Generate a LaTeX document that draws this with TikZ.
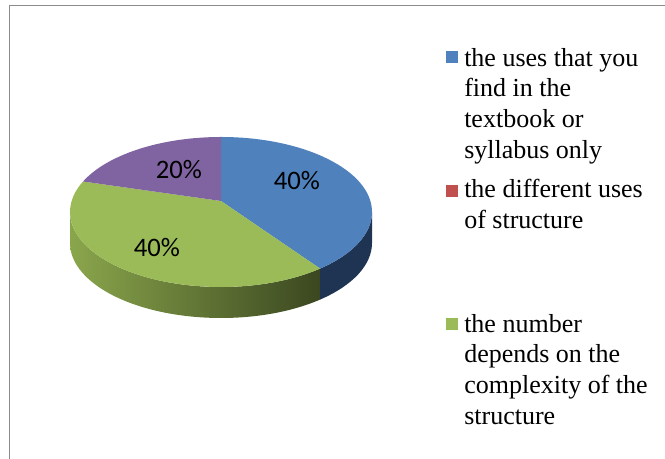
\documentclass[tikz,border=0pt]{standalone}
\usepackage{fontspec}
\usepackage{tikz}
\usetikzlibrary{positioning}
\setmainfont{Liberation Serif}
\newfontfamily\pctfamily{Carlito}
\definecolor{sliceblue}{HTML}{4F81BD}
\definecolor{slicered}{HTML}{C0504D}
\definecolor{slicegreen}{HTML}{9BBB59}
\definecolor{slicepurple}{HTML}{8064A2}
\definecolor{sideblue}{HTML}{1F3352}
\definecolor{sidegreenL}{HTML}{8AA64C}
\definecolor{sidegreenD}{HTML}{3B4720}
\definecolor{framegray}{HTML}{8C8C8C}
\tikzset{
  legtext/.style={anchor=north west,inner sep=0pt,align=left,
    font=\fontsize{19.5pt}{23pt}\selectfont},
  legkey/.style={minimum size=9pt,inner sep=0pt,draw=none},
  pct/.style={inner sep=0pt,font=\pctfamily\fontsize{20pt}{24pt}\selectfont}
}
\begin{document}
\begin{tikzpicture}[x=0.75pt,y=0.75pt]
        \useasboundingbox (0,0) rectangle (665,459);
        \draw[framegray,line width=1.2pt] (9.5,0) -- (9.5,453.5) -- (665,453.5);
        \coordinate (C) at (221,247);
        \coordinate (A) at (221,258);
        \shade[left color=sidegreenL,right color=sidegreenD] ([shift={(C)}]180:151 and 75) arc[start angle=180,end angle=311,x radius=151,y radius=75] -- ++(0,-31) arc[start angle=311,end angle=180,x radius=151,y radius=75] -- cycle;
        \fill[sideblue] ([shift={(C)}]311:151 and 75) arc[start angle=311,end angle=360,x radius=151,y radius=75] -- ++(0,-31) arc[start angle=360,end angle=311,x radius=151,y radius=75] -- cycle;
        \fill[sliceblue] (A) -- ([shift={(C)}]90:151 and 75) arc[start angle=90,end angle=-49,x radius=151,y radius=75] -- cycle;
        \fill[slicegreen] (A) -- ([shift={(C)}]-49:151 and 75) arc[start angle=-49,end angle=-204,x radius=151,y radius=75] -- cycle;
        \fill[slicepurple] (A) -- ([shift={(C)}]156:151 and 75) arc[start angle=156,end angle=90,x radius=151,y radius=75] -- cycle;
        \node[pct] (pctA) at (297,278) {40\%};
        \node[pct] (pctB) at (179,289) {20\%};
        \node[pct] (pctC) at (157,211) {40\%};
        \node[legtext] (legA) at (464,411) {the uses that you\\find in the\\textbook or\\syllabus only};
        \node[legtext] (legB) at (464,280) {the different uses\\of structure};
        \node[legtext] (legC) at (464,145) {the number\\depends on the\\complexity of the\\structure};
        \node[legkey,fill=sliceblue] (keyA) at (451.5,402) {};
        \node[legkey,fill=slicered] (keyB) at (451.5,268) {};
        \node[legkey,fill=slicegreen] (keyC) at (451.5,135) {};
    \end{tikzpicture}
\end{document}
